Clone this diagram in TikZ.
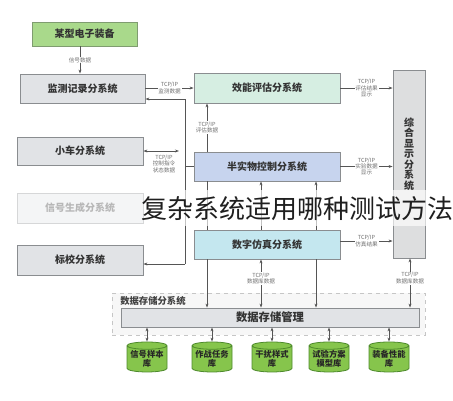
\documentclass[tikz,border=0pt]{standalone}
\usepackage{fontspec}
\setmainfont{Noto Sans CJK SC}
\usetikzlibrary{arrows.meta,shapes.geometric}
\definecolor{gboxfill}{HTML}{A9D98B}
\definecolor{gboxline}{HTML}{7F9C70}
\definecolor{grayfill}{HTML}{E1E3E6}
\definecolor{grayline}{HTML}{8A8D90}
\definecolor{efffill}{HTML}{D6EEE2}
\definecolor{hilfill}{HTML}{C7D4EE}
\definecolor{simfill}{HTML}{C4E7EF}
\definecolor{dispfill}{HTML}{DDDEDF}
\definecolor{cylfill}{HTML}{86C54C}
\definecolor{cylline}{HTML}{4E8A2C}
\definecolor{lblcol}{HTML}{707070}
\definecolor{linecol}{HTML}{555555}
\begin{document}
\begin{tikzpicture}[x=0.75pt,y=-0.75pt,
  box/.style={draw=grayline,line width=0.6pt,fill=grayfill,inner sep=0pt,
    font=\fontsize{7.5}{8}\selectfont\bfseries,text=black!80},
  lbl/.style={fill=white,inner sep=0.6pt,align=center,text=lblcol,
    font=\fontsize{4.2}{4.8}\selectfont},
  conn/.style={draw=linecol,line width=0.5pt},
  arr/.style={conn,-{Stealth[length=3pt,width=2.2pt]}},
  darr/.style={conn,{Stealth[length=3pt,width=2.2pt]}-{Stealth[length=3pt,width=2.2pt]}},
  db/.style={cylinder,shape border rotate=90,aspect=0.22,draw=cylline,line width=0.6pt,
    fill=cylfill,minimum width=40*0.75pt,minimum height=30*0.75pt,inner sep=0pt,
    align=center,font=\fontsize{6.2}{7}\selectfont\bfseries,text=black!85}]
\useasboundingbox (0,0) rectangle (453,400);

% boxes
\node[box,fill=gboxfill,draw=gboxline,minimum width=105*0.75pt,minimum height=24*0.75pt] (equip) at (84.5,34) {某型电子装备};
\node[box,minimum width=125*0.75pt,minimum height=29*0.75pt] (mon) at (82.5,88.5) {监测记录分系统};
\node[box,fill=efffill,minimum width=146*0.75pt,minimum height=30*0.75pt] (eff) at (267,88) {效能评估分系统};
\node[box,minimum width=126*0.75pt,minimum height=28*0.75pt] (car) at (80,151) {小车分系统};
\node[box,minimum width=126*0.75pt,minimum height=30*0.75pt] (sig) at (80,208) {信号生成分系统};
\node[box,minimum width=126*0.75pt,minimum height=30*0.75pt] (cal) at (80,260) {标校分系统};
\node[box,fill=hilfill,minimum width=146*0.75pt,minimum height=29*0.75pt] (hil) at (267,166.5) {半实物控制分系统};
\node[box,fill=simfill,minimum width=146*0.75pt,minimum height=29*0.75pt] (sim) at (267,244.5) {数字仿真分系统};
\node[box,fill=dispfill,minimum width=32*0.75pt,minimum height=188*0.75pt] (disp) at (409,164) {};
\node[inner sep=0pt,align=center,text=black!80,font=\fontsize{7.5}{7.9}\selectfont\bfseries] (displbl) at (409,154) {综\\合\\显\\示\\分\\系\\统};

% storage
\node[draw=gray!45,dashed,fill=gray!6,line width=0.5pt,minimum width=313*0.75pt,minimum height=42*0.75pt,inner sep=0pt] (store) at (268.5,314) {};
\node[anchor=west,inner sep=0pt,font=\fontsize{7}{7.5}\selectfont\bfseries,text=black!75] (storelbl) at (120,301) {数据存储分系统};
\node[box,minimum width=298*0.75pt,minimum height=19*0.75pt,font=\fontsize{8.5}{9}\selectfont\bfseries] (mgmt) at (270,317.5) {数据存储管理};

% databases
\node[db] (d1) at (147,359) {信号样本\\库};
\node[db] (d2) at (212,359) {作战任务\\库};
\node[db] (d3) at (272,359) {干扰样式\\库};
\node[db] (d4) at (329,359) {试验方案\\模型库};
\node[db] (d5) at (389,359) {装备性能\\库};

% coordinates
\coordinate (bt) at (185,99);
\coordinate (bb) at (185,264);
\coordinate (c1) at (207,0);
\coordinate (c2) at (261,0);
\coordinate (c3) at (316,0);
\coordinate (c4) at (410,0);
\coordinate (cx) at (80,0);
\coordinate (cb) at (179,0);
\coordinate (y1) at (0,88);
\coordinate (y4) at (0,241);

% equipment to monitor
\draw[arr] (cx |- equip.south) -- (cx |- mon.north) node[lbl,midway] (l0) {信号数据};

% horizontal links
\draw[arr] (mon.east |- y1) -- (eff.west |- y1) node[lbl,midway] (l1) {TCP/IP\\监测数据};
\draw[arr] (eff.east |- y1) -- (disp.west |- y1) node[lbl,midway] (l2) {TCP/IP\\评估结果\\显示};
\draw[arr] (hil.east) -- (disp.west |- hil.east) node[lbl,midway] (l3) {TCP/IP\\实验数据\\显示};
\draw[arr] (sim.east |- y4) -- (disp.west |- y4) node[lbl,midway] (l4) {TCP/IP\\仿真结果};

% bus
\draw[conn] (bt) -- (bb);
\draw[arr] (bt) -- (bt -| mon.east);
\draw[arr] (bb) -- (bb -| cal.east);
\draw[darr] (car.east) -- (car.east -| cb);
\node[lbl] (l5) at (164,164) {TCP/IP\\控制指令\\状态数据};
\draw[conn] (hil.west -| bt) -- (hil.west);

% verticals
\draw[arr] (c1 |- hil.north) -- (c1 |- eff.south) node[lbl,midway] (l6) {TCP/IP\\评估数据};
\draw[conn] (c1 |- hil.south) -- (c1 |- sim.north);
\draw[arr] (c1 |- sim.south) -- (c1 |- mgmt.north);
\draw[arr] (c2 |- sim.north) -- (c2 |- hil.south);
\draw[darr] (c2 |- mgmt.north) -- (c2 |- sim.south) node[lbl,pos=0.6] (l7) {TCP/IP\\数据库数据};
\draw[arr] (c3 |- sim.north) -- (c3 |- hil.south);
\draw[arr] (c3 |- sim.south) -- (c3 |- mgmt.north);
\draw[darr] (c4 |- mgmt.north) -- (c4 |- disp.south) node[lbl,pos=0.6] (l8) {TCP/IP\\数据库数据};

% bar to databases
\foreach \d in {d1,d2,d3,d4,d5}{
  \draw[darr] (\d.north |- mgmt.south) -- (\d.north);
}

% translucent band under the overlay title
\fill[white,opacity=0.65] (0,190) rectangle (453,226);
% overlay title
\node[inner sep=0pt,font=\fontsize{19.5}{20}\selectfont,text=black!88] (title) at (297,209) {复杂系统适用哪种测试方法};
\end{tikzpicture}
\end{document}
